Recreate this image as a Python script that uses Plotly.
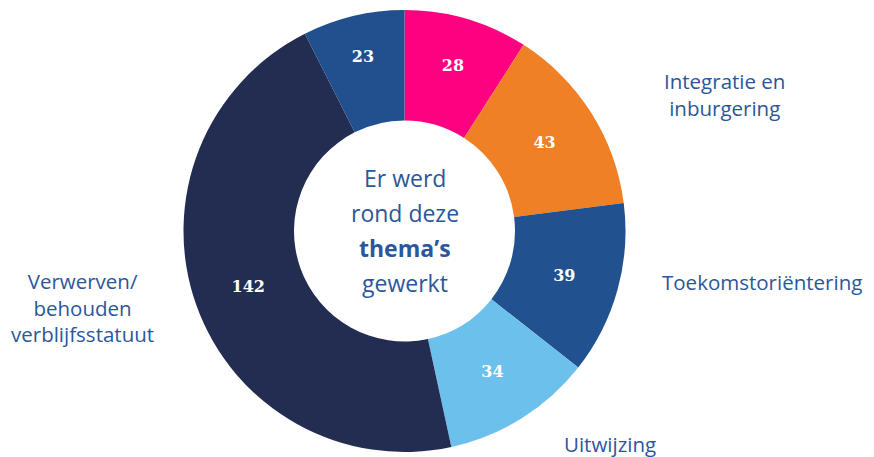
import plotly.graph_objects as go

categories = ["Thema A", "Integratie en inburgering", "Toekomstoriëntering", "Uitwijzing",
              "Verwerven/ behouden verblijfsstatuut", "Thema F"]
values = [28, 43, 39, 34, 142, 23]
colors = ["#FE0180", "#EF8026", "#21518F", "#6CC0EC", "#232C51", "#22508F"]

center_lines = ["Er werd", "rond deze", "<b>thema’s</b>", "gewerkt"]

# labels with screen positions (px from top-left of the window)
outside_labels = [
    ("Integratie en<br>inburgering", 724, 94.5),
    ("Toekomstoriëntering", 762, 282),
    ("Uitwijzing", 610, 444),
    ("Verwerven/<br>behouden<br>verblijfsstatuut", 82, 307.5),
]

OFF = 8  # page body margin
W, H = 874 - OFF, 457 - OFF
cx, cy, r = 404.5 - OFF, 231 - OFF, 221


def px(x):
    return (x - OFF) / W


def py(y):
    return 1 - (y - OFF) / H


fig = go.Figure(go.Pie(
    labels=categories,
    values=values,
    marker=dict(colors=colors, line=dict(width=0)),
    hole=0.5,
    sort=False,
    direction="clockwise",
    rotation=0,
    textinfo="value",
    textposition="inside",
    insidetextorientation="horizontal",
    textfont=dict(family="DejaVu Serif", size=16, color="white", weight="bold"),
    showlegend=False,
    domain=dict(x=[(cx - r) / W, (cx + r) / W], y=[(H - cy - r) / H, (H - cy + r) / H]),
))

text_color = "#2B579A"
annotations = []
line_y = [178, 213, 248, 283]
for t, yy in zip(center_lines, line_y):
    annotations.append(dict(text=t, x=px(404.5), y=py(yy), xref="paper", yref="paper",
                            showarrow=False, xanchor="center", yanchor="middle",
                            font=dict(family="Open Sans", size=23, color=text_color)))
for t, xx, yy in outside_labels:
    annotations.append(dict(text=t, x=px(xx), y=py(yy), xref="paper", yref="paper",
                            showarrow=False, xanchor="center", yanchor="middle", align="center",
                            font=dict(family="Open Sans", size=20.5, color=text_color)))

fig.update_layout(
    width=W, height=H,
    margin=dict(l=0, r=0, t=0, b=0),
    paper_bgcolor="white", plot_bgcolor="white",
    annotations=annotations,
)

fig.write_html("out.html")
